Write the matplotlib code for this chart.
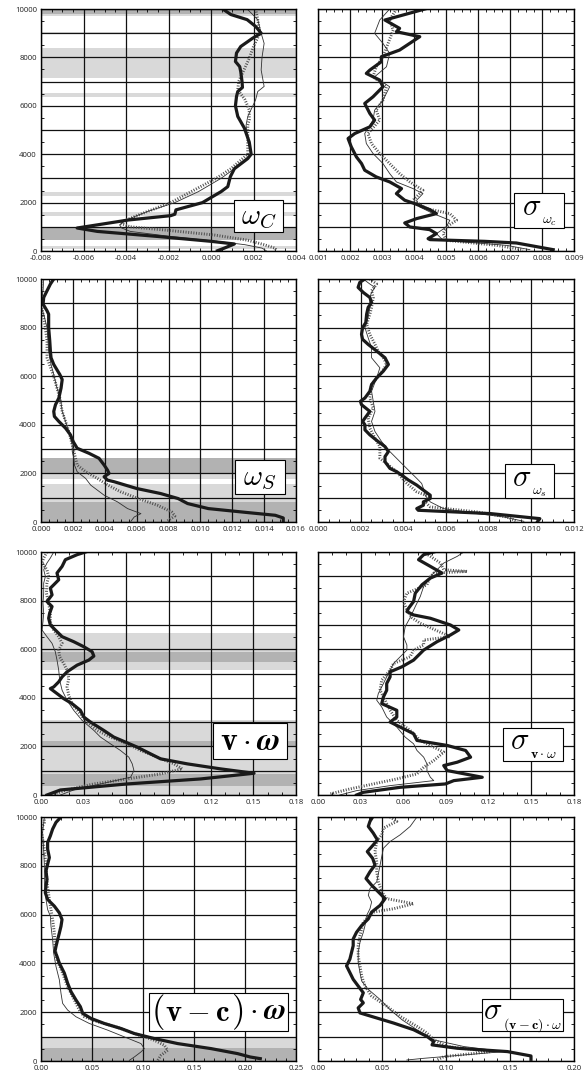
import matplotlib
matplotlib.use("Agg")
import matplotlib.pyplot as plt
from matplotlib.patches import Rectangle
from matplotlib.transforms import Bbox
from matplotlib.ticker import MultipleLocator, AutoMinorLocator, FormatStrFormatter, FuncFormatter

plt.rcParams["mathtext.fontset"] = "cm"
plt.rcParams["font.family"] = ["Open Sans", "DejaVu Sans"]

# ---------------- donnees : omega_c ----------------
wc_thick_y = [10000, 9770, 9560, 9280, 9000, 8800, 8450, 8180, 7830, 7620, 7410, 7000, 6760, 6590, 6380,
              6000, 5560, 5080, 4500, 4000, 3820, 3400, 3070, 2660, 2450, 2250, 2000, 1700, 1520, 1460,
              1280, 1080, 950, 810, 600, 400, 290, 120, 10]
wc_thick_x = [0.00055, 0.00094, 0.0017, 0.0021, 0.00236, 0.00197, 0.0014, 0.0012, 0.00115, 0.00135, 0.0014,
              0.00146, 0.00148, 0.00126, 0.0012, 0.00115, 0.00126, 0.00157, 0.0018, 0.00189, 0.00173, 0.0011,
              0.00091, 0.00079, 0.00047, 0.00008, -0.0004, -0.00165, -0.0017, -0.0019, -0.0039, -0.00535,
              -0.0063, -0.00535, -0.0025, 0.0, 0.0011, 0.00063, 0.0003]
wc_thin_y = [10000, 9560, 9000, 8580, 8000, 7480, 6800, 6590, 6250, 6000, 5560, 5200, 4520, 4000, 3820, 3400,
             3000, 2450, 2000, 1630, 1280, 1080, 950, 810, 600, 400, 260, 120, 10]
wc_thin_x = [0.0017, 0.0022, 0.00236, 0.0025, 0.0024, 0.00236, 0.0025, 0.0022, 0.0021, 0.00197, 0.00173,
             0.00165, 0.00173, 0.0019, 0.00165, 0.0011, 0.00047, -0.0006, -0.0017, -0.003, -0.004, -0.0043,
             -0.0042, -0.0038, -0.0019, 0.0003, 0.0016, 0.0024, 0.0026]
wc_dot_y = [10000, 9560, 9000, 8450, 7960, 7480, 7000, 6660, 6250, 5830, 5420, 5200, 4520, 4000, 3820, 3400,
            3000, 2450, 2000, 1630, 1280, 1140, 1000, 870, 660, 450, 260, 120, 10]
wc_dot_x = [0.0021, 0.0022, 0.0023, 0.002, 0.0018, 0.00155, 0.0013, 0.00126, 0.0016, 0.0018, 0.0018, 0.00173,
            0.00173, 0.00173, 0.00149, 0.00094, 0.00024, -0.00094, -0.0019, -0.003, -0.004, -0.00425, -0.0038,
            -0.0022, 0.00016, 0.0017, 0.0025, 0.003, 0.0031]

# ---------------- sigma omega_c ----------------
swc_thick_y = [10000, 9545, 9200, 9062, 8855, 8303, 8028, 7821, 7476, 7338, 7062, 6786, 6372, 6097, 5683,
               5407, 5131, 4855, 4648, 4303, 3890, 3614, 3338, 3062, 2855, 2579, 2372, 2097, 1959, 1710,
               1545, 1338, 1159, 993, 883, 717, 510, 470, 400, 331, 55]
swc_thick_x = [0.00434, 0.00309, 0.00355, 0.00345, 0.00418, 0.00355, 0.00298, 0.00298, 0.00262, 0.00251,
               0.00293, 0.00303, 0.00272, 0.00246, 0.00262, 0.00277, 0.00262, 0.00215, 0.00194, 0.00204,
               0.0022, 0.00236, 0.00246, 0.00282, 0.00324, 0.00361, 0.00345, 0.00371, 0.00402, 0.00449,
               0.0047, 0.00408, 0.00371, 0.00387, 0.00449, 0.0047, 0.00444, 0.0045, 0.0062, 0.0072, 0.00835]
swc_thin_y = [10000, 9545, 8993, 8579, 8166, 7614, 7200, 6786, 6234, 5821, 5407, 4855, 4441, 4028, 3614, 3200,
              2855, 2579, 2372, 2097, 1821, 1545, 1269, 993, 717, 441, 234, 55]
swc_thin_x = [0.00324, 0.00293, 0.00277, 0.00303, 0.00324, 0.00314, 0.00277, 0.00324, 0.00303, 0.00277,
              0.00272, 0.00246, 0.00251, 0.00272, 0.00303, 0.00324, 0.00345, 0.00397, 0.00428, 0.00408,
              0.00418, 0.0046, 0.00512, 0.00501, 0.0047, 0.00491, 0.00689, 0.00762]
swc_dot_y = [10000, 9545, 9131, 8579, 8028, 7614, 7200, 6786, 6234, 5821, 5407, 4855, 4441, 4028, 3614, 3200,
             2855, 2510, 2097, 1752, 1545, 1269, 993, 717, 441, 234, 55]
swc_dot_x = [0.00345, 0.00324, 0.00335, 0.00319, 0.00303, 0.00282, 0.00272, 0.00314, 0.00303, 0.00282,
             0.00293, 0.00256, 0.00267, 0.00293, 0.00324, 0.00355, 0.00387, 0.00428, 0.00397, 0.00439,
             0.00512, 0.00533, 0.00501, 0.00491, 0.00501, 0.00658, 0.00741]

# ---------------- omega_s ----------------
ws_thick_y = [10000, 9793, 9517, 9241, 8966, 8690, 8552, 8000, 7448, 7034, 6759, 6483, 6069, 5862, 5517, 5103,
              4828, 4552, 4345, 4138, 3862, 3586, 3310, 3034, 2828, 2621, 2345, 2138, 2000, 1862, 1724, 1655,
              1379, 1172, 966, 759, 552, 386, 276, 166, 28]
ws_thick_x = [0.0008, 0.00059, 0.00038, 0.00017, 0.00013, 0.00038, 0.00048, 0.00048, 0.00055, 0.00059,
              0.00063, 0.0008, 0.00118, 0.00133, 0.00126, 0.00112, 0.00091, 0.0008, 0.00084, 0.00112, 0.00154,
              0.00185, 0.00202, 0.00227, 0.00301, 0.00364, 0.00396, 0.00417, 0.00427, 0.00396, 0.00417,
              0.0046, 0.006, 0.0075, 0.0086, 0.0092, 0.0105, 0.013, 0.0147, 0.0152, 0.0152]
ws_thin_y = [10000, 9517, 9241, 8828, 8552, 8000, 7448, 7034, 6759, 6483, 6069, 5517, 5103, 4552, 4138, 3724,
             3172, 2897, 2621, 2345, 2069, 1793, 1517, 1103, 828, 552, 345, 207, 28]
ws_thin_x = [0.00017, 0.00013, 0.00006, 0.00002, 0.00017, 0.00038, 0.00044, 0.00048, 0.00055, 0.00063, 0.0008,
             0.001, 0.00122, 0.00133, 0.00154, 0.00175, 0.00196, 0.00196, 0.00206, 0.0021, 0.00227, 0.0028,
             0.00312, 0.00396, 0.0048, 0.00543, 0.00627, 0.00585, 0.00564]
ws_dot_y = [10000, 9517, 9241, 8828, 8000, 7448, 6759, 6069, 5517, 5103, 4552, 4138, 3724, 3172, 2621, 2345,
            2069, 1793, 1517, 1241, 966, 690, 414, 248, 28]
ws_dot_x = [0.0, 0.0, 0.00005, 0.00006, 0.00027, 0.00038, 0.00038, 0.00076, 0.001, 0.00118, 0.00133, 0.00154,
            0.00175, 0.00196, 0.00217, 0.00227, 0.0028, 0.00354, 0.0042, 0.005, 0.0061, 0.0073, 0.0082,
            0.0084, 0.0079]

# ---------------- sigma omega_s ----------------
sws_thick_y = [10000, 9862, 9655, 9448, 9241, 9034, 8828, 8552, 8207, 8000, 7724, 7517, 7310, 7034, 6759,
               6483, 6207, 5931, 5655, 5379, 5103, 4966, 4828, 4552, 4276, 4138, 4000, 3793, 3586, 3310, 3103,
               2897, 2690, 2483, 2207, 2069, 1931, 1724, 1517, 1310, 1103, 966, 828, 690, 552, 483, 345, 138, 28]
sws_thick_x = [0.0022, 0.00196, 0.00188, 0.00212, 0.00243, 0.00251, 0.00235, 0.00228, 0.00224, 0.00209,
               0.00204, 0.00209, 0.00235, 0.00275, 0.00314, 0.0033, 0.00306, 0.00275, 0.00251, 0.00243, 0.0022,
               0.00199, 0.00204, 0.00243, 0.0022, 0.00209, 0.0022, 0.0022, 0.00243, 0.00282, 0.00314, 0.0033,
               0.00314, 0.00314, 0.00337, 0.00369, 0.00392, 0.00424, 0.00463, 0.00494, 0.00526, 0.00526,
               0.00494, 0.00494, 0.00463, 0.0047, 0.0081, 0.0104, 0.0103]
sws_thin_y = [10000, 9793, 9655, 9448, 9241, 8828, 8414, 8000, 7586, 7172, 6759, 6345, 5931, 5379, 4966, 4552,
              4138, 3724, 3310, 2897, 2483, 2069, 1793, 1586, 1379, 1103, 828, 552, 345, 207, 28]
sws_thin_x = [0.00212, 0.00243, 0.00267, 0.00251, 0.00243, 0.00243, 0.00235, 0.0022, 0.00235, 0.00251, 0.00251,
              0.0029, 0.00275, 0.00251, 0.00259, 0.00267, 0.00251, 0.00267, 0.00298, 0.00337, 0.00384, 0.00431,
              0.00463, 0.00486, 0.00494, 0.00502, 0.00526, 0.00588, 0.00745, 0.00871, 0.00965]
sws_dot_y = [10000, 9793, 9517, 9241, 8828, 8552, 8138, 7724, 7310, 7034, 6759, 6483, 6069, 5655, 5103, 4690,
             4276, 3862, 3448, 3103, 2621, 2345, 2069, 1655, 1241, 1034, 828, 621, 414, 207, 28]
sws_dot_x = [0.00243, 0.00275, 0.00251, 0.00259, 0.00251, 0.00243, 0.00228, 0.00243, 0.00267, 0.00282,
             0.00306, 0.00322, 0.0029, 0.00251, 0.00243, 0.00259, 0.00235, 0.00243, 0.00267, 0.0029, 0.0029,
             0.0033, 0.00369, 0.00408, 0.00463, 0.00526, 0.00502, 0.00526, 0.00745, 0.00886, 0.00934]

# ---------------- v . omega ----------------
vw_thick_y = [10000, 9890, 9683, 9408, 9132, 8857, 8650, 8512, 8237, 7961, 7755, 7479, 7273, 6997, 6791, 6515,
              6309, 6102, 5895, 5716, 5551, 5344, 5069, 4862, 4656, 4449, 4380, 4174, 3967, 3760, 3485, 3209,
              3003, 2658, 2383, 2176, 1970, 1694, 1488, 1281, 1074, 895, 661, 455, 207, 0]
vw_thick_x = [0.0314, 0.0255, 0.0172, 0.0149, 0.0113, 0.0125, 0.009, 0.0066, 0.0078, 0.0042, 0.0078, 0.0061,
              0.0054, 0.0066, 0.0101, 0.0149, 0.0231, 0.0302, 0.0361, 0.0373, 0.0337, 0.0255, 0.0184, 0.0149,
              0.0125, 0.009, 0.0066, 0.0113, 0.016, 0.0219, 0.0278, 0.0302, 0.0349, 0.0443, 0.0514, 0.0597,
              0.0679, 0.0773, 0.0844, 0.1033, 0.1269, 0.1504, 0.1127, 0.0608, 0.0137, 0.0042]
vw_thin_y = [10000, 9752, 9545, 9270, 8994, 8719, 8306, 7893, 7479, 7135, 6791, 6515, 6240, 5895, 5551, 5138,
             4725, 4311, 3898, 3485, 3072, 2658, 2383, 2107, 1832, 1556, 1281, 1006, 730, 455, 207, 0]
vw_thin_x = [0.009, 0.0066, 0.0042, 0.0019, 0.0031, 0.0019, 0.0019, 0.0014, 0.0019, 0.0014, 0.0007, 0.0042,
             0.0078, 0.0101, 0.0113, 0.0125, 0.0132, 0.0149, 0.0184, 0.0231, 0.029, 0.0373, 0.042, 0.049,
             0.0561, 0.062, 0.0644, 0.0656, 0.0632, 0.042, 0.0231, 0.0137]
vw_dot_y = [10000, 9752, 9545, 9270, 8994, 8719, 8306, 7893, 7479, 7135, 6791, 6515, 6240, 5964, 5689, 5413,
            5138, 4793, 4449, 4105, 3760, 3416, 3072, 2658, 2383, 2107, 1832, 1556, 1281, 1074, 868, 661, 455,
            207, 0]
vw_dot_x = [0.0042, 0.0019, 0.0007, 0.0042, 0.0054, 0.0042, 0.0038, 0.0054, 0.0066, 0.0066, 0.009, 0.0125,
            0.0149, 0.0125, 0.0132, 0.016, 0.0184, 0.0196, 0.0184, 0.0196, 0.0219, 0.0266, 0.0314, 0.0396,
            0.049, 0.0608, 0.0703, 0.0821, 0.0939, 0.0997, 0.0844, 0.0608, 0.0373, 0.0184, 0.0066]

# ---------------- sigma v . omega ----------------
svw_thick_y = [10000, 9890, 9683, 9408, 9132, 8926, 8650, 8306, 7961, 7686, 7548, 7410, 7273, 6997, 6791,
               6584, 6309, 5964, 5551, 5275, 5069, 4862, 4587, 4311, 4036, 3760, 3485, 3209, 3003, 2796, 2521,
               2245, 2039, 1832, 1556, 1350, 1212, 1006, 730, 592, 455, 317, 110, 0]
svw_thick_x = [0.0814, 0.0743, 0.0707, 0.079, 0.0872, 0.079, 0.0731, 0.0684, 0.0672, 0.0637, 0.0625, 0.0672,
               0.079, 0.0931, 0.099, 0.0931, 0.0837, 0.0743, 0.0672, 0.059, 0.0507, 0.0507, 0.0483, 0.0483,
               0.046, 0.0448, 0.0554, 0.0554, 0.0507, 0.0578, 0.0672, 0.0696, 0.0908, 0.1038, 0.1073, 0.0979,
               0.0884, 0.0908, 0.1155, 0.0955, 0.0896, 0.0578, 0.0318, 0.0271]
svw_thin_y = [10000, 9821, 9545, 9270, 8994, 8581, 8168, 7755, 7300, 6928, 6515, 6171, 5964, 5689, 5413, 5138,
              4862, 4587, 4174, 3898, 3623, 3209, 2796, 2383, 2107, 1832, 1556, 1281, 1006, 730, 592, 386,
              179, 0]
svw_thin_x = [0.1026, 0.0979, 0.0884, 0.0837, 0.079, 0.0743, 0.0719, 0.0684, 0.0648, 0.0613, 0.0601, 0.0625,
              0.0625, 0.0578, 0.0531, 0.0507, 0.0483, 0.046, 0.0424, 0.0413, 0.0448, 0.0483, 0.0554, 0.0613,
              0.0672, 0.0696, 0.0743, 0.0766, 0.0766, 0.079, 0.0814, 0.0507, 0.0271, 0.0153]
svw_dot_y = [10000, 9821, 9545, 9270, 9201, 9132, 8994, 8650, 8306, 7961, 7617, 7300, 7066, 6515, 6377, 6171,
             5964, 5689, 5413, 5138, 4725, 4311, 4036, 3760, 3485, 3072, 2658, 2245, 1970, 1763, 1419, 1143,
             868, 661, 455, 248, 41]
svw_dot_x = [0.0743, 0.079, 0.0861, 0.0884, 0.1049, 0.0814, 0.079, 0.0766, 0.0625, 0.0601, 0.0625, 0.066,
             0.0719, 0.0931, 0.0743, 0.0743, 0.0672, 0.0648, 0.0531, 0.0507, 0.0448, 0.0436, 0.046, 0.0483,
             0.0507, 0.0554, 0.0648, 0.0719, 0.0814, 0.0884, 0.0814, 0.0743, 0.0696, 0.0554, 0.0389, 0.0224,
             0.0083]

# ---------------- (v - c) . omega ----------------
vcw_thick_y = [10000, 9780, 9505, 9231, 8956, 8681, 8338, 8063, 7788, 7445, 7170, 6896, 6621, 6346, 6071,
               5797, 5522, 5247, 4973, 4698, 4492, 4286, 4011, 3599, 3187, 2843, 2500, 2225, 1951, 1745, 1538,
               1332, 1126, 920, 714, 508, 302, 165, 96]
vcw_thick_x = [0.0196, 0.0147, 0.0114, 0.0092, 0.0065, 0.0065, 0.0082, 0.0065, 0.0049, 0.0059, 0.0049,
               0.0042, 0.0065, 0.0131, 0.018, 0.0206, 0.0196, 0.018, 0.0163, 0.0147, 0.0137, 0.0157, 0.018,
               0.0229, 0.0261, 0.0294, 0.0343, 0.0386, 0.0409, 0.049, 0.0621, 0.0784, 0.0915, 0.1111, 0.134,
               0.1667, 0.1928, 0.205, 0.215]
vcw_thin_y = [10000, 9368, 8681, 7995, 7308, 6621, 6209, 5934, 5522, 4973, 4423, 3874, 3324, 2775, 2363, 2088,
              1813, 1538, 1264, 989, 714, 508, 371, 165, 27]
vcw_thin_x = [0.0033, 0.0016, 0.0026, 0.0033, 0.0033, 0.0049, 0.0065, 0.0092, 0.0098, 0.0114, 0.0124, 0.0147,
              0.018, 0.0196, 0.0212, 0.0261, 0.0343, 0.0474, 0.0654, 0.0817, 0.098, 0.1013, 0.098, 0.0915,
              0.0866]
vcw_dot_y = [10000, 9780, 9505, 9093, 8681, 7995, 7308, 6621, 6209, 5797, 5247, 4698, 4148, 3599, 3049, 2500,
             2088, 1813, 1607, 1401, 1126, 852, 646, 440, 234, 27]
vcw_dot_x = [0.0033, 0.0033, 0.0, 0.0016, 0.0033, 0.0049, 0.0059, 0.0082, 0.0098, 0.0114, 0.0131, 0.0137,
             0.0157, 0.0212, 0.0261, 0.0327, 0.0376, 0.0425, 0.0556, 0.0735, 0.0915, 0.1111, 0.1209, 0.1242,
             0.1176, 0.1144]

# ---------------- sigma (v - c) . omega ----------------
svcw_thick_y = [10000, 9821, 9614, 9339, 9063, 8857, 8581, 8306, 8030, 7755, 7479, 7204, 6928, 6653, 6377,
                6102, 5826, 5551, 5275, 5000, 4725, 4449, 4174, 3898, 3623, 3347, 3072, 2796, 2521, 2383,
                2176, 1970, 1763, 1556, 1281, 1006, 799, 661, 523, 386, 207, 69]
svcw_thick_x = [0.0427, 0.0406, 0.0393, 0.0432, 0.0464, 0.0432, 0.0385, 0.0427, 0.0445, 0.0406, 0.0375,
                0.0419, 0.0472, 0.0524, 0.0485, 0.0419, 0.0393, 0.0341, 0.0301, 0.0275, 0.0275, 0.0262,
                0.0249, 0.0223, 0.0249, 0.0275, 0.0314, 0.0354, 0.0333, 0.0354, 0.0314, 0.0328, 0.0459,
                0.059, 0.0747, 0.0852, 0.0904, 0.0891, 0.1087, 0.148, 0.1664, 0.1664]
svcw_thin_y = [10000, 9614, 9270, 8994, 8719, 8375, 8030, 7686, 7342, 7066, 6791, 6515, 6240, 5964, 5551, 5275,
               4862, 4449, 4036, 3623, 3278, 2934, 2521, 2107, 1694, 1281, 868, 592, 386, 248, 110, 41]
svcw_thin_x = [0.0773, 0.072, 0.0642, 0.0563, 0.0511, 0.0498, 0.0485, 0.0472, 0.0459, 0.0406, 0.0393, 0.0419,
               0.0406, 0.038, 0.0367, 0.0354, 0.0328, 0.0314, 0.0314, 0.0328, 0.0341, 0.0393, 0.0485, 0.0563,
               0.0655, 0.0773, 0.0904, 0.114, 0.1454, 0.114, 0.0825, 0.0694]
svcw_dot_y = [10000, 9821, 9545, 9270, 8994, 8581, 8168, 7755, 7342, 6928, 6653, 6446, 6240, 6102, 5689, 5413,
              5138, 4725, 4311, 3898, 3485, 3072, 2658, 2245, 1832, 1419, 1143, 868, 592, 386, 179, 41]
svcw_dot_x = [0.0563, 0.0616, 0.0511, 0.0498, 0.0459, 0.0445, 0.0459, 0.0459, 0.0472, 0.0498, 0.0537, 0.0747,
              0.059, 0.0432, 0.0354, 0.0341, 0.0328, 0.0314, 0.0314, 0.0328, 0.0341, 0.0367, 0.0419, 0.0537,
              0.0642, 0.0773, 0.0852, 0.0904, 0.1009, 0.1349, 0.0983, 0.093]

# bandes grisees (altitude basse, altitude haute)
wc_bands_dark = [(9780, 10000), (450, 940)]
wc_bands_light = [(9700, 9780), (8980, 9060), (7130, 8400), (6350, 6540), (2280, 2450), (1460, 1600), (80, 220)]
ws_bands_dark = [(2000, 2620), (0, 830)]
ws_bands_light = [(1780, 2000), (830, 1560)]
vw_bands_dark = [(5480, 5900), (1970, 2240), (390, 870)]
vw_bands_light = [(5140, 6650), (0, 3070)]
vcw_bands_dark = [(0, 550)]
vcw_bands_light = [(550, 1000)]

LIGHT = "#d9d9d9"
DARK = "#b2b2b2"

# etiquettes : morceaux (texte, taille, mode, decalage vertical en points)
lab_wc = [(r"$\omega_C$", 21, "r", 0)]
lab_swc = [(r"$\sigma$", 22, "r", 0), (r"$\omega_c$", 10, "s", 0)]
lab_ws = [(r"$\omega_S$", 21, "r", 0)]
lab_sws = [(r"$\sigma$", 22, "r", 0), (r"$\omega_s$", 10, "s", 0)]
lab_vw = [(r"$\mathbf{v}\cdot\boldsymbol{\omega}$", 23, "r", 0)]
lab_svw = [(r"$\sigma$", 22, "r", 0), (r"$\mathbf{v}\cdot\omega$", 10, "s", 0)]
lab_vcw = [(r"$($", 25, "r", 0), (r"$\mathbf{v}-\mathbf{c}$", 22, "r", -1), (r"$)$", 25, "r", 1),
           (r"${}\cdot\boldsymbol{\omega}$", 22, "r", 0.5)]
lab_svcw = [(r"$\sigma$", 22, "r", 0), (r"$(\mathbf{v}-\mathbf{c})\cdot\omega$", 10, "s", 0)]

panels = [
    (0, 0, (wc_thick_x, wc_thick_y, wc_thin_x, wc_thin_y, wc_dot_x, wc_dot_y), (-0.008, 0.004), 0.002, "%.3f", 4,
     lab_wc, (0.757, 0.078, 0.192, 0.132), (wc_bands_light, wc_bands_dark)),
    (0, 1, (swc_thick_x, swc_thick_y, swc_thin_x, swc_thin_y, swc_dot_x, swc_dot_y), (0.001, 0.009), 0.001, "%.3f", 4,
     lab_swc, (0.766, 0.095, 0.195, 0.145), None),
    (1, 0, (ws_thick_x, ws_thick_y, ws_thin_x, ws_thin_y, ws_dot_x, ws_dot_y), (0.0, 0.016), 0.002, "%.3f", 4,
     lab_ws, (0.761, 0.115, 0.196, 0.140), (ws_bands_light, ws_bands_dark)),
    (1, 1, (sws_thick_x, sws_thick_y, sws_thin_x, sws_thin_y, sws_dot_x, sws_dot_y), (0.0, 0.012), 0.002, "%.3f", 4,
     lab_sws, (0.730, 0.099, 0.192, 0.140), None),
    (2, 0, (vw_thick_x, vw_thick_y, vw_thin_x, vw_thin_y, vw_dot_x, vw_dot_y), (0.0, 0.18), 0.03, "%.2f", 3,
     lab_vw, (0.675, 0.148, 0.290, 0.148), (vw_bands_light, vw_bands_dark)),
    (2, 1, (svw_thick_x, svw_thick_y, svw_thin_x, svw_thin_y, svw_dot_x, svw_dot_y), (0.0, 0.18), 0.03, "%.2f", 3,
     lab_svw, (0.723, 0.140, 0.234, 0.136), None),
    (3, 0, (vcw_thick_x, vcw_thick_y, vcw_thin_x, vcw_thin_y, vcw_dot_x, vcw_dot_y), (0.0, 0.25), 0.05, "%.2f", 5,
     lab_vcw, (0.424, 0.123, 0.545, 0.156), (vcw_bands_light, vcw_bands_dark)),
    (3, 1, (svcw_thick_x, svcw_thick_y, svcw_thin_x, svcw_thin_y, svcw_dot_x, svcw_dot_y), (0.0, 0.20), 0.05, "%.2f", 5,
     lab_svcw, (0.641, 0.123, 0.316, 0.131), None),
]

col_left = [41 / 584, 318 / 584]
col_width = [255 / 584, 256 / 584]
rows_px = [(9, 251), (279, 522), (552, 795), (817, 1061)]

fig = plt.figure(figsize=(5.84, 10.8), dpi=100)
labels = []

for row, col, series, xlim, step, fmt, nminor, pieces, box, bands in panels:
    top, bot = rows_px[row]
    ax = fig.add_axes([col_left[col], 1 - bot / 1080, col_width[col], (bot - top) / 1080])
    tx, ty, nx, ny, dx, dy = series

    if bands is not None:
        for lo, hi in bands[0]:
            ax.axhspan(lo, hi, color=LIGHT, lw=0, zorder=0)
        for lo, hi in bands[1]:
            ax.axhspan(lo, hi, color=DARK, lw=0, zorder=0)

    ax.plot(dx, dy, color="#505050", lw=2.1, linestyle=(0, (0.35, 0.55)), zorder=3)
    ax.plot(nx, ny, color="#303030", lw=0.6, zorder=4)
    ax.plot(tx, ty, color="#1a1a1a", lw=2.3, zorder=5, solid_joinstyle="round")

    ax.set_xlim(*xlim)
    ax.set_ylim(0, 10000)
    ax.xaxis.set_major_locator(MultipleLocator(step))
    ax.xaxis.set_minor_locator(AutoMinorLocator(nminor))
    ax.xaxis.set_major_formatter(FormatStrFormatter(fmt))
    ax.yaxis.set_major_locator(MultipleLocator(1000))
    ax.yaxis.set_minor_locator(AutoMinorLocator(2))
    if col == 0:
        ax.yaxis.set_major_formatter(FuncFormatter(lambda v, p: "%d" % v if int(round(v)) % 2000 == 0 else ""))
    else:
        ax.yaxis.set_major_formatter(FuncFormatter(lambda v, p: ""))

    ax.grid(True, which="major", color="#111111", lw=0.9)
    ax.set_axisbelow(False)
    for gl in ax.get_xgridlines() + ax.get_ygridlines():
        gl.set_zorder(1)
    ax.tick_params(which="both", direction="in", top=True, right=True, labelsize=5.6,
                   labelcolor="#222222")
    ax.tick_params(axis="x", pad=3)
    ax.tick_params(axis="y", pad=3)
    ax.tick_params(which="major", length=0)
    ax.tick_params(which="minor", length=2, width=0.6)
    for s in ax.spines.values():
        s.set_linewidth(1.0)
        s.set_zorder(6)

    bx, by, bw, bh = box
    ax.add_patch(Rectangle((bx, by), bw, bh, transform=ax.transAxes, facecolor="white",
                           edgecolor="black", lw=0.8, zorder=7))
    # morceaux de l'etiquette, enchaines les uns aux autres
    arts = []
    first = ax.text(bx + bw / 2, by + bh / 2, pieces[0][0], transform=ax.transAxes, ha="left", va="center",
                    fontsize=pieces[0][1], zorder=8)
    arts.append(first)
    prev = first
    for s, fs, mode, dyp in pieces[1:]:
        anchor = (1, 0.05) if mode == "s" else (1, 0.5)
        a = ax.annotate(s, xy=anchor, xycoords=prev, xytext=(0.5, dyp), textcoords="offset points",
                        ha="left", va="center", fontsize=fs, zorder=8)
        arts.append(a)
        prev = a
    labels.append((ax, first, arts, box))

# recentrer chaque etiquette dans sa boite
fig.canvas.draw()
renderer = fig.canvas.get_renderer()
for ax, first, arts, box in labels:
    bb = Bbox.union([a.get_window_extent(renderer) for a in arts])
    inv = ax.transAxes.inverted()
    (x0, y0), (x1, y1) = inv.transform([[bb.x0, bb.y0], [bb.x1, bb.y1]])
    bx, by, bw, bh = box
    fx, fy = first.get_position()
    first.set_position((fx + (bx + bw / 2) - (x0 + x1) / 2, fy + (by + bh / 2) - (y0 + y1) / 2))

fig.savefig("out.png", dpi=100)
